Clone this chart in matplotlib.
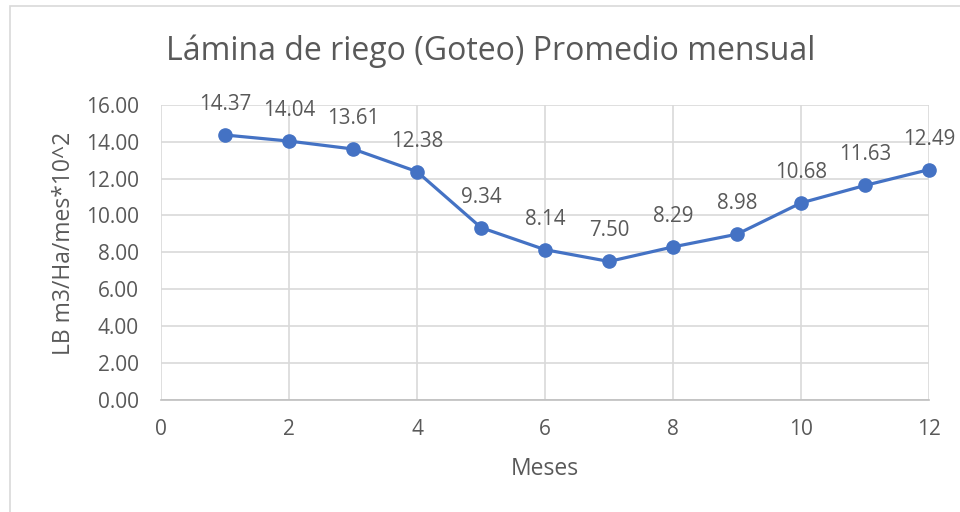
import matplotlib
matplotlib.use("Agg")
import matplotlib.pyplot as plt
from matplotlib.patches import Rectangle

plt.rcParams['font.family'] = ['Open Sans', 'DejaVu Sans']

meses = [1, 2, 3, 4, 5, 6, 7, 8, 9, 10, 11, 12]
lamina = [14.37, 14.04, 13.61, 12.38, 9.34, 8.14, 7.50, 8.29, 8.98, 10.68, 11.63, 12.49]
x_ticks = [0, 2, 4, 6, 8, 10, 12]
y_ticks = [0, 2, 4, 6, 8, 10, 12, 14, 16]

title = "Lámina de riego (Goteo) Promedio mensual"
xlabel = "Meses"
ylabel = "LB m3/Ha/mes*10^2"

txt = "#595959"
grid = "#d9d9d9"
line_c = "#4472C4"

fig = plt.figure(figsize=(9.6, 5.12), dpi=100)
fig.patches.append(Rectangle((10/960, -0.1), 1.2, 1 - 6/512 + 0.1, transform=fig.transFigure,
                             fill=False, edgecolor=grid, linewidth=1.2))
ax = fig.add_axes([161/960, 1 - 399.5/512, (929-161)/960, (399.5-105)/512])
ax.set_xlim(0, 12)
ax.set_ylim(0, 16)
ax.set_xticks(x_ticks)
ax.set_yticks(y_ticks)
ax.set_yticklabels([f"{v:.2f}" for v in y_ticks])
ax.grid(True, color=grid, linewidth=1.2)
ax.set_axisbelow(True)
for s in ['top', 'right', 'left']:
    ax.spines[s].set_visible(False)
ax.spines['bottom'].set_color('#bfbfbf')
ax.spines['bottom'].set_linewidth(1.2)
ax.tick_params(length=0, labelsize=15, colors=txt)
ax.tick_params(axis='x', pad=14)
ax.tick_params(axis='y', pad=16)

ax.plot(meses, lamina, color=line_c, linewidth=2.3, marker='o', markersize=9.5, clip_on=False, zorder=3)
for xv, yv in zip(meses, lamina):
    ax.annotate(f"{yv:.2f}", (xv, yv), xytext=(0, 22), textcoords='offset points',
                ha='center', va='center', fontsize=14.8, color=txt)

fig.text(491/960, 1 - 51/512, title, ha='center', va='center', fontsize=23, color=txt)
fig.text(545/960, 1 - 469/512, xlabel, ha='center', va='center', fontsize=16.5, color=txt)
fig.text(64/960, 1 - 243/512, ylabel, ha='center', va='center', rotation=90, fontsize=16.5, color=txt)

fig.savefig("out.png", dpi=100)
